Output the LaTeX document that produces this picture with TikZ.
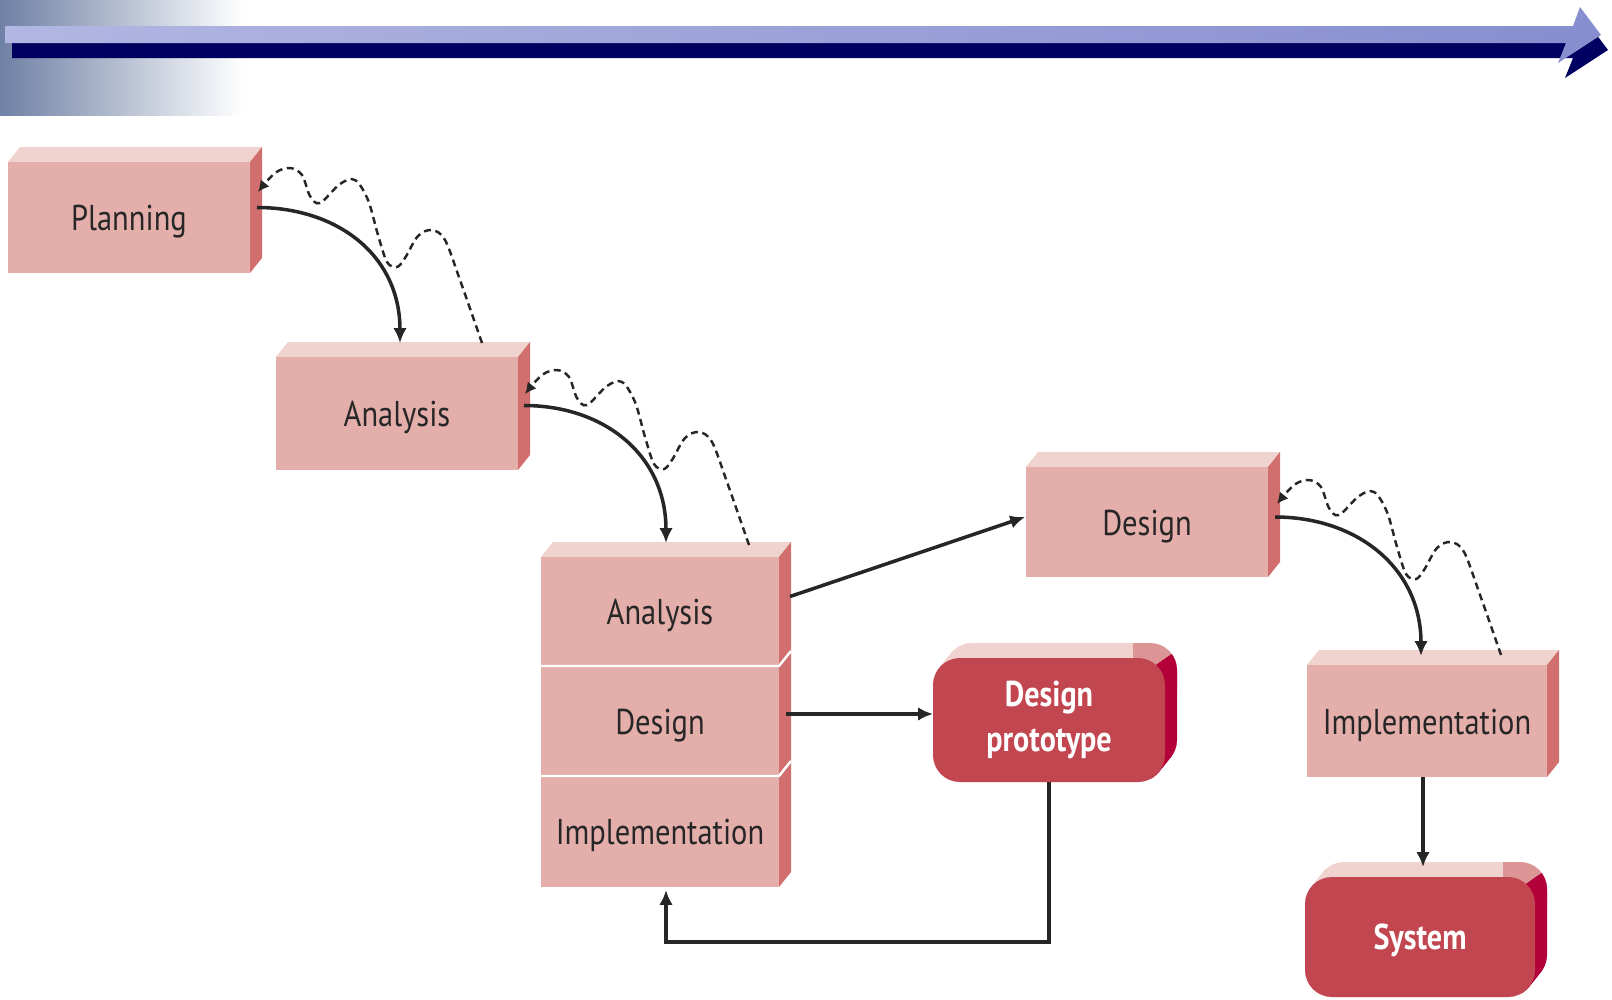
\documentclass[tikz,border=0pt]{standalone}
\usepackage{fontspec}
\setmainfont{PT Sans}
\newfontfamily\slabfont[FakeStretch=0.85]{PT Sans}
\newfontfamily\pillfont[FakeStretch=0.84]{PT Sans}
\usetikzlibrary{calc,arrows.meta}

\definecolor{slabtop}{HTML}{F0D3CF}
\definecolor{slabfront}{HTML}{E4AFAB}
\definecolor{slabside}{HTML}{D06F6D}
\definecolor{pillfront}{HTML}{C1464F}
\definecolor{pillside}{HTML}{B3003A}
\definecolor{pillcorner}{HTML}{DC9595}
\definecolor{ink}{HTML}{262626}
\definecolor{bannershade}{HTML}{6E80A4}
\definecolor{lavlight}{HTML}{B2B6E2}
\definecolor{lavdark}{HTML}{868ECF}
\definecolor{navy}{HTML}{000060}

\tikzset{
  slab/.style={rectangle, inner sep=0pt, outer sep=0pt, fill=slabfront, text=ink,
    text height=0.74em, text depth=0pt,
    font=\slabfont\fontsize{10.2pt}{12pt}\selectfont},
  pill/.style={rectangle, rounded corners=0.27cm, inner sep=0pt, outer sep=0pt,
    fill=pillfront, text=white, align=center,
    font=\pillfont\bfseries\fontsize{10.2pt}{12.6pt}\selectfont},
  flow/.style={draw=ink, line width=1pt, -{Latex[length=4.2pt,width=3.8pt]}},
  rework/.style={draw=ink, line width=0.7pt, dash pattern=on 2pt off 1.3pt,
    -{Latex[length=3.2pt,width=3.2pt]}}
}

% box with a lit top face and a shaded right face: name, left, top, right, bottom, label
\newcommand\slabbox[6]{%
  \fill[slabtop] (#2,#3) -- ++(12,-15) -- ++({#4-#2},0) -- (#4,#3) -- cycle;
  \fill[slabside] (#4,#3) -- ++(12,-15) -- ++(0,{#5-#3}) -- (#4,#5) -- cycle;
  \node[slab, minimum width={(#4-#2)*0.01cm}, minimum height={(#5-#3)*0.01cm}]
    (#1) at ({(#2+#4)/2},{(#3+#5)/2}) {#6};
}

% rounded deliverable block with depth: [node options] name, left, top, right, bottom, label
\newcommand\pillbox[7][]{%
  \foreach \t in {0,0.1,...,1.05}{
    \fill[slabtop, rounded corners=0.27cm, shift={({12*\t},{-15*\t})}] (#3,#4) rectangle (#5,#6);}
  \begin{scope}
    \clip (#5-32,#4-40) rectangle (#5+40,#4+30);
    \foreach \t in {0,0.1,...,1.05}{
      \fill[pillcorner, rounded corners=0.27cm, shift={({12*\t},{-15*\t})}] (#3,#4) rectangle (#5,#6);}
  \end{scope}
  \begin{scope}
    \clip (#5-14,#4+11) -- (#5+40,#4-28) -- (#5+40,#6+20) -- (#5-14,#6+20) -- cycle;
    \foreach \t in {0,0.1,...,1.05}{
      \fill[pillside, rounded corners=0.27cm, shift={({12*\t},{-15*\t})}] (#3,#4) rectangle (#5,#6);}
  \end{scope}
  \node[pill, #1, minimum width={(#5-#3)*0.01cm}, minimum height={(#6-#4)*0.01cm}]
    (#2) at ({(#3+#5)/2},{(#4+#6)/2}) {#7};
}

% dashed iteration loop back to the previous phase
\newcommand\reworkloop[1]{%
  \draw[rework, shift={#1}] plot[smooth, tension=0.55] coordinates {
    (482,343) (460,280) (445,240) (432,230) (418,236) (405,258) (397,267)
    (387,262) (378,235) (368,200) (355,180) (340,184) (320,203) (310,196)
    (302,175) (290,168) (275,173) (258,192)};
}

\begin{document}
\begin{tikzpicture}[x=0.01cm, y=-0.01cm]
\useasboundingbox (0,0) rectangle (1612,1000);

% title band
\shade[left color=bannershade, right color=white] (0,0) rectangle (243,115);
\fill[navy, shift={(7,15)}] (5,26) -- (1573,26) -- (1580,7) -- (1601,35) -- (1558,63)
  -- (1566,43) -- (5,43) -- cycle;
\shade[left color=lavlight, right color=lavdark] (5,26) -- (1573,26) -- (1580,7)
  -- (1601,35) -- (1558,63) -- (1566,43) -- (5,43) -- cycle;

% phases
\slabbox{pl}{8}{162}{250}{273}{Planning}
\slabbox{an}{276}{357}{518}{470}{Analysis}

\slabbox{si}{541}{776}{779}{887}{Implementation}
\slabbox{sd}{541}{666}{779}{776}{Design}
\slabbox{sa}{541}{557}{779}{666}{Analysis}
\draw[white, line width=0.7pt] (541,666) -- (779,666) -- ++(12,-15);
\draw[white, line width=0.7pt] (541,776) -- (779,776) -- ++(12,-15);

\slabbox{de}{1026}{467}{1268}{577}{Design}
\slabbox{im}{1307}{665}{1547}{777}{Implementation}

\pillbox{dp}{933}{658}{1165}{782}{Design\\prototype}
\pillbox[text height=0.72em, text depth=0pt]{sys}{1305}{877}{1535}{997}{System}

% forward flow
\draw[flow] ($(pl.east)+(7,-10)$) .. controls +(80,0) and +(0,-88) .. ($(an.north)+(3,-14)$);
\draw[flow] ($(an.east)+(6,-8)$) .. controls +(80,0) and +(0,-88) .. ($(sa.north)+(6,-14)$);
\draw[flow] ($(de.east)+(7,-5)$) .. controls +(82,0) and +(0,-88) .. ($(im.north)+(-6,-9)$);

\draw[flow] ($(sa.east)+(11,-15)$) -- ($(de.west)+(-1,-5)$);
\draw[flow] ($(sd.east)+(7,-7)$) -- ($(dp.west)+(0,-6)$);
\draw[flow] (dp.south) -- ++(0,160) -| ($(si.south)+(6,3)$);
\draw[flow] ($(im.south)+(-4,0)$) -- ($(sys.north)+(3,-10)$);

% iteration loops
\reworkloop{(0,0)}
\reworkloop{(267,202)}
\reworkloop{(1019,312)}
\end{tikzpicture}
\end{document}
